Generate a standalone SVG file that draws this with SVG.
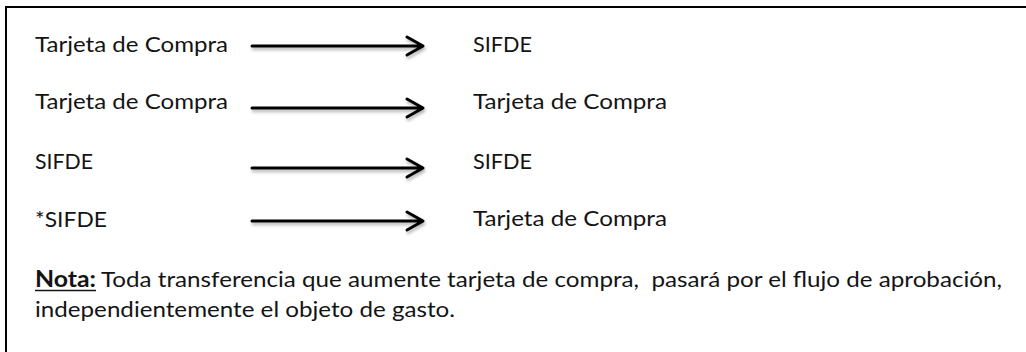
<svg xmlns="http://www.w3.org/2000/svg" width="1026" height="352" viewBox="0 0 1026 352">
<style>
  .t { font-family: Lato, "Liberation Sans", Arial, sans-serif; font-size: 22px; fill: #141414; }
  .b { font-weight: bold; }
  .arrow { stroke: #000; stroke-width: 3; fill: none; stroke-linecap: round; stroke-linejoin: round; }
  .frame { stroke: #000; stroke-width: 2; fill: none; }
</style>
<defs>
  <filter id="sh" x="-10%" y="-100%" width="120%" height="300%">
    <feDropShadow dx="1" dy="2.5" stdDeviation="1.5" flood-color="#000" flood-opacity="0.3"/>
  </filter>
</defs>
<rect width="1026" height="352" fill="#fff"/>
<path class="frame" d="M1026 7 H6 V352"/>

<g id="src1"><text class="t" x="35" y="52" textLength="193" lengthAdjust="spacingAndGlyphs">Tarjeta de Compra</text></g>
<g id="dst1"><text class="t" x="473" y="52" textLength="59" lengthAdjust="spacingAndGlyphs">SIFDE</text></g>
<g id="src2"><text class="t" x="35" y="109" textLength="193" lengthAdjust="spacingAndGlyphs">Tarjeta de Compra</text></g>
<g id="dst2"><text class="t" x="473" y="109" textLength="194" lengthAdjust="spacingAndGlyphs">Tarjeta de Compra</text></g>
<g id="src3"><text class="t" x="35" y="169" textLength="58" lengthAdjust="spacingAndGlyphs">SIFDE</text></g>
<g id="dst3"><text class="t" x="473" y="169" textLength="59" lengthAdjust="spacingAndGlyphs">SIFDE</text></g>
<g id="src4"><text class="t" x="35" y="227" textLength="72" lengthAdjust="spacingAndGlyphs">*SIFDE</text></g>
<g id="dst4"><text class="t" x="473" y="226" textLength="194" lengthAdjust="spacingAndGlyphs">Tarjeta de Compra</text></g>

<g id="connectors" filter="url(#sh)">
  <path class="arrow" d="M252 46 H423 M407 37 L423 46 L407 55"/>
  <path class="arrow" d="M252 108 H423 M407 99 L423 108 L407 117"/>
  <path class="arrow" d="M252 168 H423 M407 159 L423 168 L407 177"/>
  <path class="arrow" d="M252 221 H423 M407 212 L423 221 L407 230"/>
</g>

<g id="note">
  <text class="t b" x="35" y="287" textLength="61" lengthAdjust="spacingAndGlyphs">Nota:</text>
  <line x1="35" y1="290.5" x2="96" y2="290.5" stroke="#141414" stroke-width="1.5"/>
  <text class="t" x="101" y="287" textLength="901" lengthAdjust="spacingAndGlyphs" xml:space="preserve">Toda transferencia que aumente tarjeta de compra,  pasará por el flujo de aprobación,</text>
  <text class="t" x="35" y="317" textLength="420" lengthAdjust="spacingAndGlyphs">independientemente el objeto de gasto.</text>
</g>
</svg>
